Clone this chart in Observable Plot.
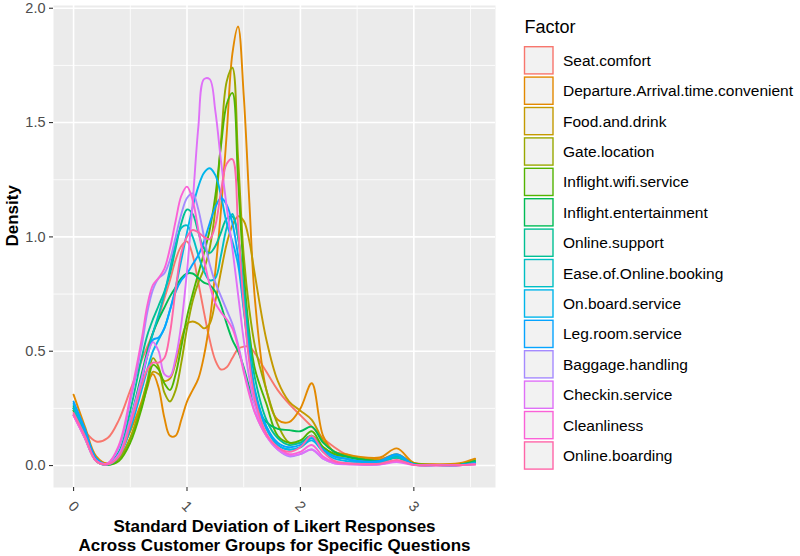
<!DOCTYPE html>
<html><head><meta charset="utf-8">
<script src="https://cdn.jsdelivr.net/npm/d3@7"></script>
<script src="https://cdn.jsdelivr.net/npm/@observablehq/plot@0.6"></script>
<style>
body{margin:0;background:#fff;font-family:"Liberation Sans",Arial,sans-serif;}
#wrap{position:relative;width:800px;height:556px;overflow:hidden;}
#wrap svg{position:absolute;left:0;top:0;}
</style></head><body><div id="wrap"></div>
<script>
const factors = ["Seat.comfort","Departure.Arrival.time.convenient","Food.and.drink","Gate.location","Inflight.wifi.service","Inflight.entertainment","Online.support","Ease.of.Online.booking","On.board.service","Leg.room.service","Baggage.handling","Checkin.service","Cleanliness","Online.boarding"];
const factorColors = ["#F8766D","#E38900","#C49A00","#99A800","#53B400","#00BC56","#00C094","#00BFC4","#00B6EB","#06A4FF","#A58AFF","#DF70F8","#FB61D7","#FF66A8"];
const sdGrid = [0,0.1,0.2,0.3,0.4,0.5,0.6,0.65,0.7,0.75,0.8,0.85,0.9,0.95,1.0,1.05,1.1,1.15,1.2,1.25,1.3,1.35,1.4,1.45,1.5,1.55,1.6,1.7,1.8,1.9,2.0,2.1,2.2,2.3,2.4,2.5,2.7,2.85,3.0,3.2,3.4,3.54];
const seatComfort = [0.22,0.15,0.105,0.12,0.2,0.33,0.46,0.52,0.58,0.65,0.73,0.81,0.9,0.96,0.98,0.92,0.8,0.67,0.55,0.46,0.42,0.43,0.47,0.51,0.52,0.52,0.49,0.41,0.33,0.27,0.22,0.17,0.12,0.08,0.05,0.035,0.03,0.04,0.012,0.005,0.005,0.012];
const departureArrival = [0.31,0.17,0.04,0.01,0.05,0.15,0.28,0.36,0.40,0.34,0.21,0.13,0.13,0.2,0.28,0.33,0.38,0.48,0.63,0.85,1.12,1.45,1.8,1.92,1.62,1.15,0.72,0.33,0.2,0.19,0.25,0.36,0.13,0.06,0.05,0.04,0.035,0.075,0.012,0.005,0.01,0.03];
const foodDrink = [0.25,0.14,0.03,0.005,0.03,0.12,0.26,0.34,0.41,0.4,0.37,0.38,0.45,0.55,0.62,0.63,0.62,0.6,0.62,0.72,0.85,0.97,1.05,1.09,1.07,0.98,0.83,0.55,0.37,0.28,0.24,0.2,0.11,0.06,0.045,0.035,0.025,0.05,0.01,0.004,0.006,0.025];
const gateLocation = [0.24,0.13,0.02,0.004,0.03,0.12,0.27,0.37,0.47,0.43,0.32,0.28,0.33,0.45,0.6,0.72,0.8,0.86,0.95,1.12,1.42,1.68,1.74,1.35,0.92,0.68,0.52,0.33,0.18,0.1,0.1,0.13,0.08,0.05,0.04,0.03,0.02,0.035,0.008,0.003,0.003,0.012];
const inflightWifi = [0.24,0.12,0.02,0.003,0.02,0.1,0.25,0.35,0.44,0.42,0.36,0.33,0.4,0.52,0.65,0.75,0.84,0.93,1.03,1.18,1.4,1.58,1.63,1.25,0.85,0.58,0.42,0.27,0.13,0.1,0.11,0.15,0.08,0.05,0.04,0.03,0.02,0.04,0.008,0.003,0.003,0.015];
const inflightEntertainment = [0.26,0.15,0.03,0.003,0.04,0.2,0.4,0.5,0.58,0.64,0.69,0.74,0.78,0.82,0.84,0.84,0.82,0.8,0.79,0.76,0.7,0.62,0.55,0.5,0.43,0.34,0.27,0.19,0.16,0.155,0.15,0.17,0.1,0.06,0.04,0.03,0.02,0.035,0.006,0.002,0.003,0.02];
const onlineSupport = [0.25,0.14,0.03,0.005,0.06,0.24,0.47,0.57,0.64,0.7,0.76,0.84,0.95,1.06,1.12,1.1,1.02,0.95,0.93,0.96,1.02,1.08,1.09,1.0,0.78,0.55,0.38,0.2,0.12,0.09,0.1,0.13,0.07,0.04,0.03,0.02,0.015,0.04,0.005,0.002,0.002,0.015];
const easeOnlineBooking = [0.25,0.13,0.02,0.005,0.05,0.18,0.37,0.48,0.58,0.66,0.75,0.86,0.97,1.04,1.05,1.0,0.92,0.85,0.81,0.82,0.92,1.04,1.1,1.0,0.75,0.5,0.33,0.17,0.09,0.07,0.08,0.12,0.07,0.04,0.03,0.02,0.012,0.035,0.005,0.002,0.002,0.01];
const onBoardService = [0.27,0.15,0.03,0.005,0.04,0.16,0.33,0.42,0.5,0.55,0.6,0.68,0.78,0.9,1.02,1.13,1.22,1.28,1.3,1.27,1.18,1.06,0.98,0.88,0.68,0.47,0.31,0.16,0.09,0.07,0.08,0.11,0.06,0.03,0.02,0.015,0.015,0.045,0.005,0.002,0.002,0.01];
const legRoomService = [0.28,0.16,0.03,0.005,0.05,0.2,0.38,0.48,0.55,0.56,0.6,0.68,0.76,0.81,0.84,0.88,0.92,0.98,1.06,1.13,1.17,1.14,1.06,0.92,0.7,0.48,0.32,0.17,0.1,0.08,0.09,0.12,0.07,0.04,0.03,0.02,0.02,0.05,0.005,0.002,0.002,0.01];
const baggageHandling = [0.22,0.12,0.02,0.01,0.08,0.28,0.52,0.67,0.77,0.82,0.84,0.9,1.0,1.1,1.17,1.19,1.12,1.0,0.88,0.8,0.74,0.68,0.62,0.53,0.42,0.32,0.23,0.13,0.07,0.04,0.05,0.07,0.03,0.01,0.008,0.005,0.005,0.02,0.003,0.001,0.001,0.005];
const checkinService = [0.22,0.12,0.02,0.005,0.05,0.2,0.38,0.48,0.54,0.5,0.4,0.39,0.47,0.62,0.85,1.15,1.48,1.69,1.69,1.55,1.33,1.13,0.95,0.75,0.55,0.38,0.26,0.13,0.07,0.045,0.05,0.07,0.03,0.01,0.005,0.004,0.004,0.015,0.002,0.001,0.001,0.005];
const cleanliness = [0.22,0.12,0.02,0.01,0.09,0.3,0.55,0.7,0.79,0.82,0.86,0.95,1.07,1.18,1.22,1.16,1.03,0.9,0.79,0.71,0.67,0.64,0.6,0.52,0.41,0.31,0.23,0.13,0.08,0.05,0.06,0.09,0.04,0.015,0.01,0.006,0.006,0.02,0.003,0.001,0.001,0.005];
const onlineBoarding = [0.23,0.13,0.02,0.005,0.04,0.18,0.35,0.42,0.45,0.45,0.47,0.58,0.77,0.93,1.0,1.03,1.02,1.0,0.99,1.05,1.2,1.32,1.34,1.05,0.7,0.45,0.29,0.14,0.08,0.06,0.08,0.13,0.06,0.02,0.01,0.008,0.008,0.025,0.003,0.001,0.001,0.005];

const xTicks = [0,1,2,3];
const xMinor = [0.5,1.5,2.5,3.5];
const yTicks = [0,0.5,1,1.5,2];
const yMinor = [0.25,0.75,1.25,1.75];
const xTitle = "Standard Deviation of Likert Responses\nAcross Customer Groups for Specific Questions";
const yTitle = "Density";
const legendTitle = "Factor";

const seriesValues = [seatComfort,departureArrival,foodDrink,gateLocation,inflightWifi,inflightEntertainment,onlineSupport,easeOnlineBooking,onBoardService,legRoomService,baggageHandling,checkinService,cleanliness,onlineBoarding];
const rows = [];
factors.forEach((f, i) => seriesValues[i].forEach((v, j) => rows.push({factor: f, sd: sdGrid[j], density: v})));

const chart = Plot.plot({
  width: 800, height: 556,
  marginLeft: 53, marginRight: 305, marginTop: 5, marginBottom: 69,
  style: {fontFamily: "Liberation Sans, Arial, sans-serif", background: "transparent"},
  x: {domain: [-0.177, 3.72]},
  y: {domain: [-0.096, 2.012]},
  color: {domain: factors, range: factorColors},
  marks: [
    Plot.frame({fill: "#EBEBEB", stroke: null}),
    Plot.ruleX(xMinor, {stroke: "white", strokeWidth: 0.8}),
    Plot.ruleY(yMinor, {stroke: "white", strokeWidth: 0.8}),
    Plot.ruleX(xTicks, {stroke: "white", strokeWidth: 1.6}),
    Plot.ruleY(yTicks, {stroke: "white", strokeWidth: 1.6}),
    Plot.line(rows, {x: "sd", y: "density", z: "factor", stroke: "factor", curve: "catmull-rom", strokeWidth: 1.9}),
    Plot.axisY(yTicks, {anchor: "left", tickSize: 4, tickPadding: 4, tickFormat: d => d.toFixed(1), fontSize: 14.5, label: null, stroke: "#333333", fill: "#4D4D4D", strokeWidth: 1.1}),
    Plot.axisX(xTicks, {anchor: "bottom", tickSize: 4, tickFormat: () => "", label: null, stroke: "#333333", strokeWidth: 1.1}),
    Plot.text(xTicks, {x: d => d, frameAnchor: "bottom", lineAnchor: "middle", dy: 19, rotate: 45, text: d => String(d), fontSize: 14.5, fill: "#4D4D4D"}),
    Plot.text([xTitle], {frameAnchor: "bottom", lineAnchor: "middle", dy: 48, text: d => d, fontSize: 17, fontWeight: "bold", lineHeight: 1.1, fill: "black"}),
    Plot.text([yTitle], {frameAnchor: "left", lineAnchor: "middle", dx: -41, rotate: -90, text: d => d, fontSize: 17, fontWeight: "bold", fill: "black"})
  ]
});
const wrap = document.getElementById("wrap");
wrap.appendChild(chart);

// legend
const leg = d3.select(wrap).append("svg").attr("width", 800).attr("height", 556)
  .style("font-family", "Liberation Sans, Arial, sans-serif");
leg.append("text").attr("x", 524.5).attr("y", 33).attr("font-size", 18).attr("fill", "black").text(legendTitle);
factors.forEach((f, i) => {
  const cy = 60.3 + 30.4 * i;
  leg.append("rect").attr("x", 524.5).attr("y", cy - 13.6).attr("width", 28.5).attr("height", 27.2)
    .attr("fill", "#F2F2F2").attr("stroke", factorColors[i]).attr("stroke-width", 1.4);
  leg.append("text").attr("x", 563).attr("y", cy).attr("dy", "0.35em").attr("font-size", 15.5).attr("fill", "black").text(f);
});
</script></body></html>
